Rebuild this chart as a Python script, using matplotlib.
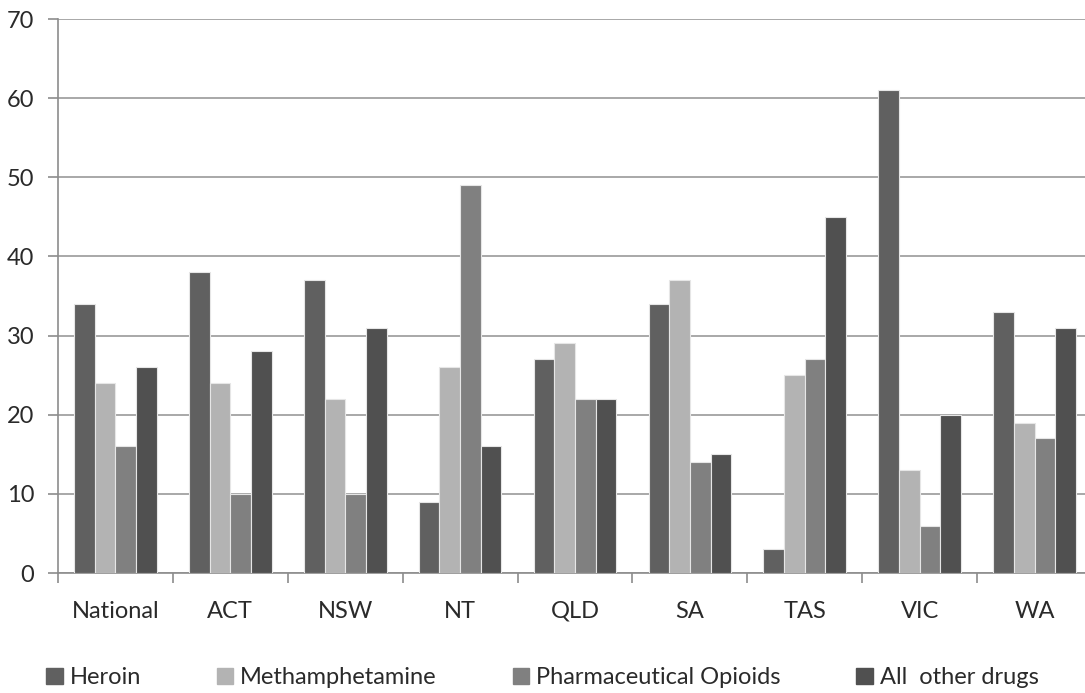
import matplotlib.pyplot as plt
import matplotlib.patches as mpatches
import numpy as np

plt.rcParams['font.family'] = ['Lato', 'DejaVu Sans']

categories = ['National', 'ACT', 'NSW', 'NT', 'QLD', 'SA', 'TAS', 'VIC', 'WA']
heroin = [34, 38, 37, 9, 27, 34, 3, 61, 33]
meth = [24, 24, 22, 26, 29, 37, 25, 13, 19]
pharma = [16, 10, 10, 49, 22, 14, 27, 6, 17]
other = [26, 28, 31, 16, 22, 15, 45, 20, 31]

series = [('Heroin', heroin, '#606060'),
          ('Methamphetamine', meth, '#b3b3b3'),
          ('Pharmaceutical Opioids', pharma, '#808080'),
          ('All  other drugs', other, '#505050')]

fig = plt.figure(figsize=(10.85, 6.93), dpi=100)
ax = fig.add_axes([58/1085, 120/693, 1034/1085, 554/693])

x = np.arange(len(categories))
w = 0.18
for i, (name, vals, col) in enumerate(series):
    ax.bar(x + (i - 1.5) * w, vals, w, color=col, edgecolor='#e6e6e6',
           linewidth=0.8, label=name, zorder=3)

ax.set_xlim(-0.5, 8.5)
ax.set_ylim(0, 70)
ax.set_yticks(range(0, 71, 10))
ax.yaxis.grid(True, color='#9a9a9a', linewidth=1.2, zorder=0)
ax.set_axisbelow(True)

for s in ['top', 'right']:
    ax.spines[s].set_visible(False)
for s in ['left', 'bottom']:
    ax.spines[s].set_color('#8c8c8c')
    ax.spines[s].set_linewidth(1.2)

ax.set_xticks(x)
ax.set_xticklabels(categories)
ax.set_xticks(np.arange(-0.5, 9, 1), minor=True)
ax.tick_params(axis='x', which='major', length=0, pad=20, labelsize=17,
               labelcolor='#2a2a2a')
ax.tick_params(axis='x', which='minor', length=7, color='#8c8c8c', width=1.2)
ax.tick_params(axis='y', length=7, color='#8c8c8c', width=1.2, pad=10,
               labelsize=17, labelcolor='#2a2a2a')

handles = [mpatches.Patch(color=c, label=n) for n, v, c in series]
fig.legend(handles=handles, loc='center left', bbox_to_anchor=(0.023, 0.022),
           ncol=4, frameon=False, fontsize=17, handlelength=0.7,
           handleheight=0.7, handletextpad=0.3, columnspacing=3.2,
           labelcolor='#2a2a2a')

fig.savefig('out.png', dpi=100)
